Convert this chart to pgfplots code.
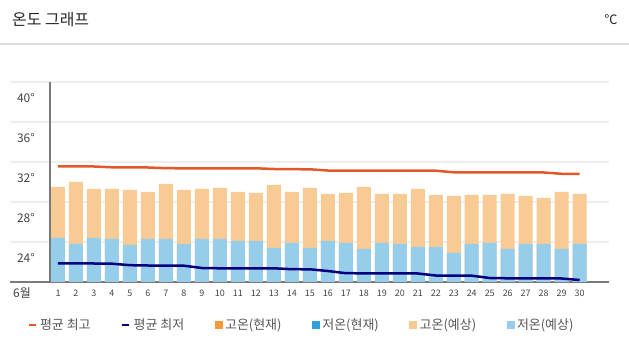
\documentclass[border=0pt]{standalone}
\usepackage{fontspec}
\setmainfont{Noto Sans CJK KR}
\usepackage{pgfplots}
\usepackage{pgfplotstable}
\pgfplotsset{compat=1.18}
\definecolor{hiLine}{HTML}{E2582B}
\definecolor{loLine}{HTML}{00007F}
\definecolor{hiBar}{HTML}{F8CA94}
\definecolor{loBar}{HTML}{96CDEA}
\definecolor{hiNow}{HTML}{F7993A}
\definecolor{loNow}{HTML}{2E9FD9}
\definecolor{axgray}{HTML}{7A7A7A}
\definecolor{gridgray}{HTML}{EEEEEE}
\definecolor{sepgray}{HTML}{DDDDDD}
\definecolor{labgray}{HTML}{444444}
\definecolor{leggray}{HTML}{555555}

\pgfplotstableread{
d hi lo ah al
1 29.5 24.4 31.55 21.85
2 30.0 23.8 31.55 21.85
3 29.3 24.4 31.55 21.85
4 29.3 24.3 31.47 21.83
5 29.2 23.7 31.47 21.68
6 29.0 24.3 31.45 21.65
7 29.8 24.3 31.38 21.63
8 29.2 23.8 31.37 21.63
9 29.3 24.3 31.37 21.40
10 29.4 24.3 31.37 21.37
11 29.0 24.1 31.37 21.37
12 28.9 24.1 31.37 21.37
13 29.7 23.4 31.30 21.37
14 29.0 23.9 31.28 21.28
15 29.4 23.4 31.27 21.27
16 28.8 24.1 31.15 21.10
17 28.9 23.9 31.13 20.88
18 29.5 23.3 31.13 20.87
19 28.8 23.9 31.13 20.87
20 28.8 23.8 31.13 20.87
21 29.3 23.5 31.13 20.85
22 28.7 23.5 31.13 20.65
23 28.6 22.9 30.97 20.63
24 28.7 23.8 30.95 20.63
25 28.7 23.9 30.95 20.40
26 28.8 23.3 30.95 20.37
27 28.6 23.8 30.95 20.37
28 28.4 23.8 30.95 20.37
29 29.0 23.3 30.82 20.35
30 28.8 23.8 30.80 20.20
}\data

\begin{document}
\begin{tikzpicture}
\useasboundingbox (0,0) rectangle (629bp,357bp);
\draw[sepgray, line width=1.5bp] (0,313bp) -- (629bp,313bp);
\node[anchor=west, inner sep=0pt, font=\fontsize{16}{18}\selectfont, text=black!85] at (12bp,337bp) {온도 그래프};
\node[anchor=center, inner sep=0pt, font=\fontsize{13}{15}\selectfont, text=black!85] at (611bp,337bp) {℃};
\begin{axis}[
  at={(10bp,75bp)}, anchor=south west,
  scale only axis, width=599bp, height=200bp,
  xmin=-1.668, xmax=31.63, ymin=20, ymax=40,
  axis x line*=bottom, axis y line*=left,
  x axis line style={draw=axgray, line width=2bp},
  y axis line style={draw=none},
  /pgf/number format/assume math mode=true,
  xtick={1,...,30},
  extra x ticks={-1}, extra x tick labels={6월},
  extra x tick style={xticklabel style={font=\fontsize{12}{14}\selectfont, text=labgray}},
  major tick length=0pt,
  ytick={24,28,32,36,40},
  yticklabels={24°,28°,32°,36°,40°},
  ymajorgrids,
  major grid style={draw=gridgray, line width=1.5bp},
  yticklabel style={anchor=east, inner sep=0pt, xshift=25bp, yshift=-16bp, font=\fontsize{12}{14}\selectfont, text=labgray},
  xticklabel style={anchor=center, inner sep=0pt, yshift=-11bp, font=\fontsize{9}{10}\selectfont, text=labgray},
  legend columns=6,
  legend cell align=left,
  legend style={at={(0.4875,-0.215)}, anchor=center, draw=none, fill=none,
    font=\fontsize{13}{15}\selectfont, text=leggray,
    nodes={inner sep=3bp},
    /tikz/every even column/.append style={column sep=27.5bp}},
]
\addplot[ybar, bar width=14bp, bar shift=0pt, fill=hiBar, draw=none, forget plot] table[x=d,y=hi]{\data};
\addplot[ybar, bar width=14bp, bar shift=0pt, fill=loBar, draw=none, forget plot] table[x=d,y=lo]{\data};
\addplot[hiLine, line width=2.5bp, mark=none, forget plot] table[x=d,y=ah]{\data};
\addplot[loLine, line width=2.5bp, mark=none, forget plot] table[x=d,y=al]{\data};
\draw[axgray, line width=2bp] (axis cs:0.555,20) -- (axis cs:0.555,40);

\addlegendimage{legend image code/.code={\draw[hiLine, line width=2.5bp] (0bp,0bp) -- (7bp,0bp);}}
\addlegendentry{평균 최고}
\addlegendimage{legend image code/.code={\draw[loLine, line width=2.5bp] (0bp,0bp) -- (7bp,0bp);}}
\addlegendentry{평균 최저}
\addlegendimage{legend image code/.code={\fill[hiNow] (0bp,-3.5bp) rectangle (7bp,3.5bp);}}
\addlegendentry{고온(현재)}
\addlegendimage{legend image code/.code={\fill[loNow] (0bp,-3.5bp) rectangle (7bp,3.5bp);}}
\addlegendentry{저온(현재)}
\addlegendimage{legend image code/.code={\fill[hiBar] (0bp,-3.5bp) rectangle (7bp,3.5bp);}}
\addlegendentry{고온(예상)}
\addlegendimage{legend image code/.code={\fill[loBar] (0bp,-3.5bp) rectangle (7bp,3.5bp);}}
\addlegendentry{저온(예상)}
\end{axis}
\end{tikzpicture}
\end{document}
